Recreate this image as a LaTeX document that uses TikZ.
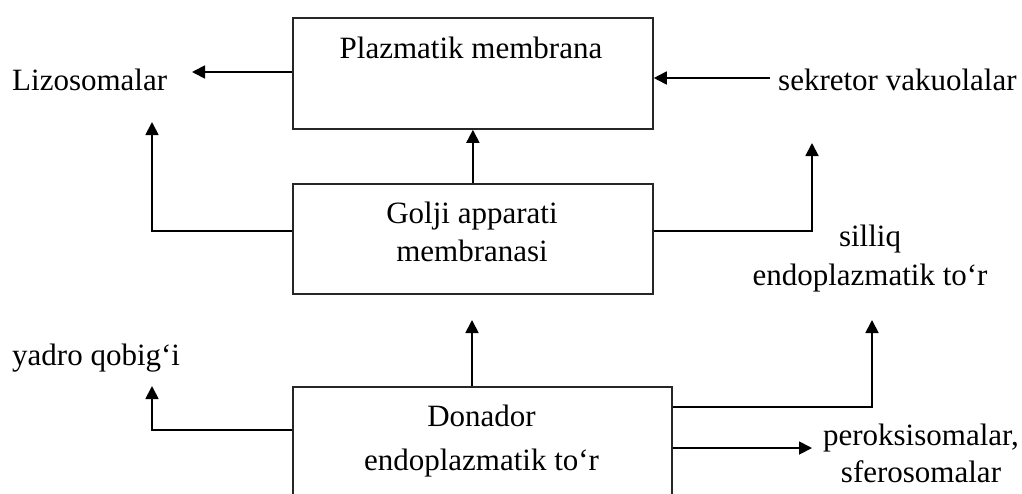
\documentclass[tikz,border=0pt]{standalone}
\usepackage{fontspec}
\setmainfont{Liberation Serif}
\usetikzlibrary{arrows.meta}
\begin{document}
\begin{tikzpicture}[x=1pt,y=-1pt,
  box/.style={draw=black!85, line width=1.8pt, inner sep=0pt, anchor=north west},
  lbl/.style={inner sep=0pt, align=center},
  arr/.style={line width=1.8pt, -{Triangle[length=13pt,width=13pt]}}]
\useasboundingbox (0,0) rectangle (1022,493);
\clip (0,0) rectangle (1022,493);
% boxes
\node[box, minimum width=360pt, minimum height=111pt] (pm) at (292,17) {};
\node[box, minimum width=360pt, minimum height=110pt] (ga) at (292,183) {};
\node[box, minimum width=379pt, minimum height=140pt] (de) at (292,386) {};
% texts (base anchor = baseline of last line)
\node[lbl, font=\fontsize{31}{38}\selectfont, anchor=base] (tpm) at (471,58) {Plazmatik membrana};
\node[lbl, font=\fontsize{31}{38.7}\selectfont, anchor=base] (tga) at (472,261.7) {Golji apparati\\membranasi};
\node[lbl, font=\fontsize{31}{44}\selectfont, anchor=base] (tde) at (481.5,470.7) {Donador\\endoplazmatik to‘r};
\node[lbl, font=\fontsize{31}{38}\selectfont, anchor=base west] (liz) at (12,90) {Lizosomalar};
\node[lbl, font=\fontsize{31}{38}\selectfont, anchor=base west] (sek) at (778,90) {sekretor vakuolalar};
\node[lbl, font=\fontsize{31}{38.3}\selectfont, anchor=base] (sil) at (870,285) {silliq\\endoplazmatik to‘r};
\node[lbl, font=\fontsize{31}{38}\selectfont, anchor=base west] (yad) at (12,365) {yadro qobig‘i};
\node[lbl, font=\fontsize{31}{37}\selectfont, anchor=base] (per) at (921,482) {peroksisomalar,\\sferosomalar};
% free ends
\coordinate (lizR) at (192,72);
\coordinate (lizB) at (152,122);
\coordinate (sekL) at (770,78);
\coordinate (sekB) at (812,143);
\coordinate (gaB) at (472,320);
\coordinate (yadB) at (152,386);
\coordinate (silB) at (872,320);
\coordinate (perL) at (812,448);
% connectors
\draw[arr] (pm.west |- lizR) -- (lizR);
\draw[arr] (ga.west |- 0,231) -| (lizB);
\draw[arr] (ga.north) -- (pm.south);
\draw[arr] (sekL) -- (pm.east |- sekL);
\draw[arr] (ga.east |- 0,231) -| (sekB);
\draw[arr] (de.north -| gaB) -- (gaB);
\draw[arr] (de.west |- 0,430) -| (yadB);
\draw[arr] (de.east |- 0,407) -| (silB);
\draw[arr] (de.east |- perL) -- (perL);
\end{tikzpicture}
\end{document}
